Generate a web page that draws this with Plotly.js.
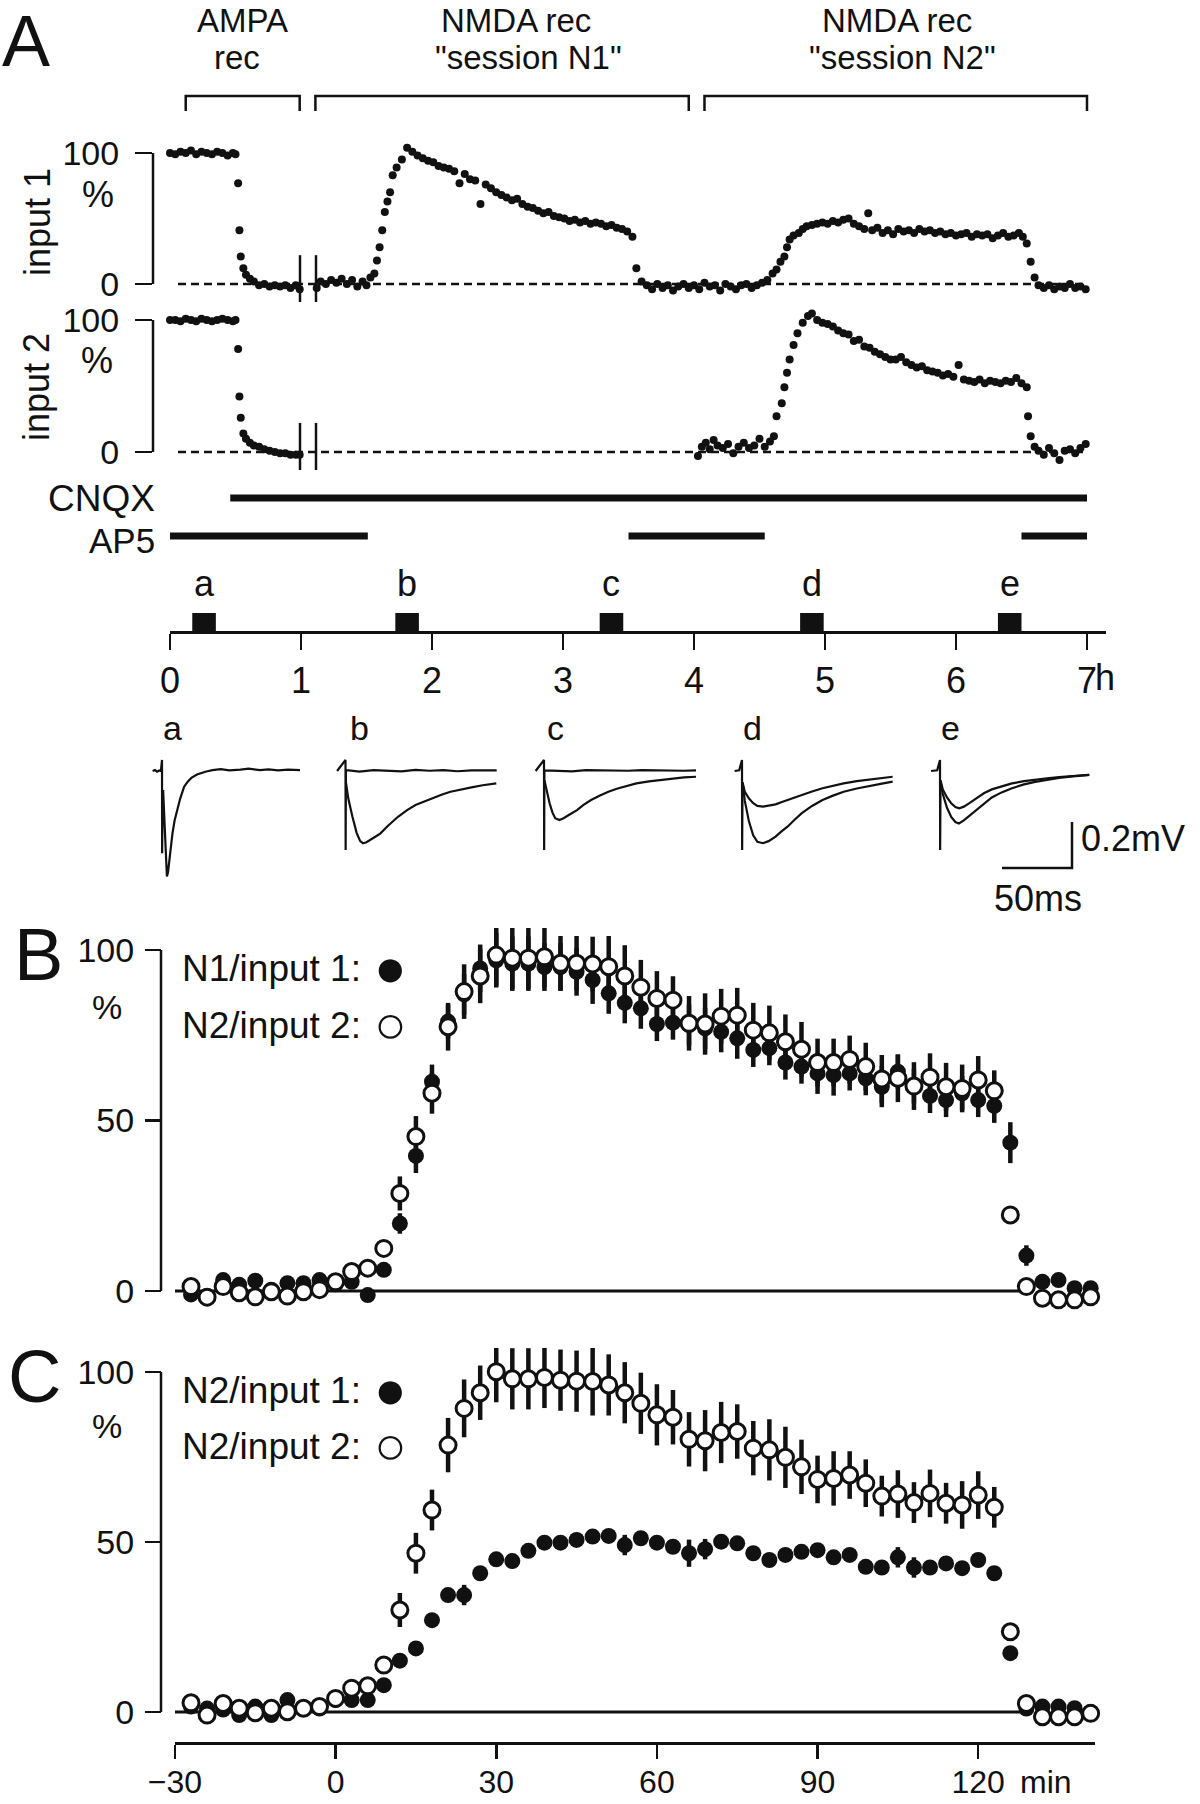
<!DOCTYPE html>
<html><head><meta charset="utf-8">
<script src="https://cdn.plot.ly/plotly-3.0.1.min.js"></script>
<style>html,body{margin:0;padding:0;background:#fff}#chart{width:1200px;height:1804px}</style>
</head><body><div id="chart"></div>
<script>
// ---------------- DATA ----------------
// Panel A: time course (hours) of input 1 and input 2 (% of baseline)
const input1Time = [0.00,0.04,0.08,0.12,0.16,0.20,0.24,0.28,0.32,0.36,0.40,0.44,0.48,0.50,
0.52,0.53,0.54,0.56,0.58,0.61,0.64,0.68,0.72,0.76,0.80,0.84,0.88,0.92,0.96,0.99,
1.12,1.15,1.19,1.23,1.27,1.31,1.35,1.39,1.43,1.47,1.50,
1.53,1.56,1.58,1.60,1.62,1.64,1.66,1.68,1.70,1.73,1.77,1.81,
1.85,1.89,1.93,1.97,2.01,2.05,2.09,2.13,2.17,2.21,2.25,2.29,2.33,2.37,2.41,2.45,2.49,2.53,2.57,2.61,2.65,2.69,2.73,2.77,2.81,2.85,2.89,2.93,2.97,3.01,3.05,3.09,3.13,3.17,3.21,3.25,3.29,3.33,3.37,3.41,3.45,3.49,3.53,
3.56,3.60,3.64,3.68,3.72,3.76,3.80,3.84,3.88,3.92,3.96,4.00,4.04,4.08,4.12,4.16,4.20,4.24,4.28,4.32,4.36,4.40,4.44,4.48,4.52,4.56,
4.60,4.63,4.66,4.69,4.71,4.73,4.76,4.80,4.83,4.86,4.90,4.94,4.98,5.02,5.06,5.10,5.14,5.18,5.22,5.26,5.30,5.33,5.36,5.40,5.44,5.48,5.52,5.56,5.60,5.64,5.68,5.72,5.76,5.80,5.84,5.88,5.92,5.96,6.00,6.04,6.08,6.12,6.16,6.20,6.24,6.28,6.32,6.36,6.40,6.44,6.48,6.51,6.54,
6.57,6.60,6.63,6.67,6.71,6.75,6.79,6.83,6.87,6.91,6.95,6.99];
const input1Pct = [100,99,101,100,102,99,101,100,99,101,100,98,100,99,
77,41,21,12,7,4,2,-1,0,-2,-1,-2,-1,-3,-1,-4,
-3,2,0,3,1,4,0,3,-2,2,-1,
5,8,18,28,41,55,63,70,83,89,95,104,
101,98,96,94,93,90,89,88,86,77,84,80,79,61,76,73,70,68,66,64,65,61,59,58,56,54,55,52,51,50,48,49,47,48,46,47,46,44,45,43,42,40,36,
12,2,-1,-4,0,-3,-1,-5,-2,0,-3,-1,-4,1,-2,-1,-5,0,-2,-4,-1,0,-3,-1,1,3,
8,11,17,21,28,34,37,39,42,44,45,46,47,46,48,47,49,50,46,44,42,54,41,43,39,41,38,42,40,41,39,42,40,41,39,40,38,39,37,38,39,36,38,37,38,35,37,39,36,37,39,36,31,
17,5,-1,-3,-1,-4,-2,-3,0,-3,-2,-4];

const input2Time = [0.00,0.04,0.08,0.12,0.16,0.20,0.24,0.28,0.32,0.36,0.40,0.44,0.48,0.50,
0.52,0.53,0.54,0.56,0.58,0.61,0.64,0.68,0.72,0.76,0.80,0.84,0.88,0.92,0.96,0.99,
4.03,4.06,4.09,4.12,4.15,4.18,4.22,4.26,4.30,4.34,4.38,4.42,4.46,4.50,4.54,4.58,4.61,
4.63,4.67,4.69,4.71,4.73,4.76,4.79,4.83,4.87,4.90,
4.94,4.98,5.02,5.06,5.10,5.14,5.18,5.22,5.26,5.30,5.34,5.38,5.42,5.46,5.50,5.54,5.58,5.62,5.66,5.70,5.74,5.78,5.82,5.86,5.90,5.94,5.98,6.02,6.06,6.10,6.14,6.18,6.22,6.26,6.30,6.34,6.38,6.42,6.46,6.50,6.54,
6.55,6.57,6.60,6.63,6.67,6.71,6.75,6.79,6.83,6.87,6.91,6.95,6.99];
const input2Pct = [100,100,99,101,100,99,101,100,99,100,101,100,99,100,
78,42,26,14,10,7,5,4,2,1,0,-1,-1,-2,-2,-2,
-3,4,7,2,9,5,3,6,-1,4,7,3,5,10,4,8,12,
27,37,49,60,70,81,90,98,103,105,
100,98,97,95,92,90,89,84,85,80,79,76,74,72,70,70,72,68,66,64,65,62,61,60,58,59,57,66,55,54,53,55,52,54,53,52,54,53,56,52,49,
27,12,4,1,-2,3,-1,-6,1,2,-1,3,6];

// drug applications (hours)
const cnqxStart = [0.46], cnqxEnd = [7.0];
const ap5Start = [0.0, 3.50, 6.50], ap5End = [1.51, 4.54, 7.0];
// recording sessions (hours)
const sessionStart = [0.12, 1.11, 4.08], sessionEnd = [0.99, 3.96, 7.0];
const sessionLine1 = ['AMPA', 'NMDA rec', 'NMDA rec'];
const sessionLine2 = ['rec', '"session N1"', '"session N2"'];
// sample times for example traces (hours)
const sampleTimes = [0.26, 1.81, 3.37, 4.90, 6.41];
const sampleLabels = ['a', 'b', 'c', 'd', 'e'];
const hourTicks = [0, 1, 2, 3, 4, 5, 6, 7];
const hourTickText = ['0', '1', '2', '3', '4', '5', '6', '7'];

// Example traces (ms, mV)
const traceA_t = [-6.7,-5,-3.5,-2,-0.8,0,0.05,0.1,0.3,0.8,1.8,2.8,3.5,4.3,5.0,5.8,7.5,9,10.8,13,15.8,18.5,21,25,31,36,42,48,56,62,70,76,83,90,98.6];
const traceA_v = [0,0.004,-0.003,0.002,0,0.048,-0.2,-0.358,-0.22,-0.083,-0.25,-0.40,-0.459,-0.44,-0.40,-0.343,-0.27,-0.215,-0.17,-0.12,-0.068,-0.045,-0.03,-0.015,-0.003,0.004,0.008,0.003,0.006,0.01,0.004,0.007,0.003,0.006,0.004];
const traceB1_t = [-6,0,0.1,0.3,1,10,20,30,40,50,60,70,80,90,100,108];
const traceB1_v = [0,0.048,-0.343,0,0.004,-0.003,0.004,0.002,-0.002,0.005,0.001,0.004,-0.001,0.003,0.002,0.003];
const traceB2_t = [0.3,2,5,8,10.5,12.5,15,18,21,25,30,37.5,44,50,56,62.5,69,75,82,90,98,107.7];
const traceB2_v = [-0.05,-0.12,-0.2,-0.27,-0.305,-0.314,-0.31,-0.3,-0.287,-0.271,-0.24,-0.199,-0.17,-0.148,-0.133,-0.119,-0.102,-0.09,-0.08,-0.071,-0.062,-0.054];
const traceC1_t = [-6,0,0.1,0.3,1,10,20,30,40,50,60,70,80,90,100,108.6];
const traceC1_v = [0,0.048,-0.343,0,0.003,0.001,-0.002,0.004,0.002,0.003,0.001,0.004,0.002,0.003,0.001,0.003];
const traceC2_t = [0.3,2,4,6,8,11,14,18,23.6,28,33.6,40,46,52,58.6,66,75,83.6,92,100,108.6];
const traceC2_v = [-0.04,-0.09,-0.14,-0.18,-0.205,-0.213,-0.205,-0.19,-0.17,-0.148,-0.126,-0.107,-0.09,-0.077,-0.065,-0.054,-0.045,-0.039,-0.033,-0.028,-0.025];
const traceD1_t = [-5.3,-2,0,0.1,0.4,2,5,8,11,15,19,24,28,32.5,37,42.5,50,57.5,65,72.6,82,92.6,100,107.6];
const traceD1_v = [0,0.003,0.048,-0.343,-0.05,-0.09,-0.12,-0.14,-0.152,-0.155,-0.152,-0.145,-0.136,-0.126,-0.116,-0.104,-0.089,-0.075,-0.064,-0.054,-0.044,-0.036,-0.03,-0.025];
const traceD2_t = [0.4,2,5,8,11,15,19,24,28,32.5,37,42.5,50,57.5,65,72.6,82,92.6,100,107.6];
const traceD2_v = [-0.05,-0.13,-0.22,-0.28,-0.308,-0.314,-0.305,-0.285,-0.264,-0.242,-0.215,-0.184,-0.152,-0.126,-0.107,-0.09,-0.076,-0.065,-0.055,-0.046];
const traceE1_t = [-6.4,-2,0,0.1,0.4,2,5,8,11,13.8,17,21,26,31.3,37,44,51.4,60,68,76.5,85,95,106.6];
const traceE1_v = [0,0.003,0.048,-0.343,-0.04,-0.08,-0.115,-0.14,-0.157,-0.162,-0.155,-0.14,-0.118,-0.097,-0.08,-0.066,-0.054,-0.044,-0.037,-0.032,-0.026,-0.021,-0.017];
const traceE2_t = [0.4,2,5,8,11,13.5,17,21,26,31.3,37,44,51.4,60,68,76.5,85,95,106.6];
const traceE2_v = [-0.05,-0.1,-0.16,-0.2,-0.222,-0.228,-0.215,-0.195,-0.168,-0.141,-0.115,-0.093,-0.075,-0.058,-0.047,-0.039,-0.03,-0.023,-0.017];
const scaleBarMs = 50, scaleBarMv = 0.2;

// Panels B and C: minutes relative to NMDA onset
const binTime = [-27,-24,-21,-18,-15,-12,-9,-6,-3,0,3,6,9,12,15,18,21,24,27,30,33,36,39,42,45,48,51,54,57,60,63,66,69,72,75,78,81,84,87,90,93,96,99,102,105,108,111,114,117,120,123,126,129,132,135,138,141];
const bN1in1 = [-1,-1.5,3.2,1.8,3.0,0.4,2.3,2.3,3.2,2.0,2.7,-1.2,6.2,19.8,39.6,61.4,79,87,94.6,97,96,96,95,95,93.6,91.2,87.3,84.5,82.9,78.3,78.7,78,77,76,74.1,70.7,71.2,67,65.8,63.8,63.3,63.8,62.4,59.9,64.3,60,57.2,56,58,56,54.3,43.5,10.4,2.7,3.2,0.8,0.8];
const bN1in1Err = [1,1,1,1,1,1,1,1,1,1,1,1,1,3,5,5,5,6,7,8,8,8,7,7,7,7,6,6,6,5,5,6,6,6,6,5,5,5,5,6,6,5,5,6,5,5,5,5,5,5,5,6,3,1,1,1,1];
const bN2in2 = [1.3,-1.8,1.3,-0.5,-1.7,-0.2,-1.5,-0.2,0.4,2.7,5.7,6.7,12.5,28.6,45.3,58,77.5,87.8,92.4,98.5,97.6,97.6,98,96.1,96.1,95.9,95.1,92.4,89.1,85.8,85.3,78.5,78.3,80.6,80.9,76.5,75.7,73.1,70.9,67,67,67.9,65.8,62.2,62.4,60.1,62.7,59.9,59.4,61.9,58.7,22.3,1.3,-2.1,-2.6,-2.6,-1.7];
const bN2in2Err = [1,1,1,1,1,1,1,1,1,1,1,1,2,5,6,6,7,8,8,9,9,9,9,8,8,8,9,9,8,8,7,8,9,8,8,8,8,8,8,7,7,7,7,7,7,7,7,7,7,7,6,1,1,1,1,1,1];
const cN2in1 = [1.6,1,0.7,-0.9,1.6,-0.9,3.5,1,1,3.5,3.5,3.5,7.9,15.1,18.7,27,34.4,34.4,40.8,44.9,44.4,47.4,49.8,49.8,50.6,51.6,51.8,49.1,51.1,49.8,48.6,46.7,47.9,50.1,49.6,46.7,44.7,46.2,47.1,47.6,45.5,46.2,42.7,42.5,45.5,42.5,42.5,43.7,42.3,44.7,40.8,17.3,1,1.6,1.6,1.1,0];
const cN2in1Err = [1,1,1,1,1,1,1,1,1,1,1,1,1,1,1,1,2,3,1,1,1,1,1,1,1,1,1,3,1,1,1,4,3,1,1,1,1,1,1,1,1,1,2,1,3,3,1,1,1,1,2,1,1,1,1,1,1];
const cN2in2 = [2.7,-0.9,2.5,1.1,-0.2,1.1,0.1,1.1,1.6,4.0,7.0,7.7,13.8,30,46.7,59.4,78.5,89.3,93.9,100.1,98,98,98.4,97.6,97.3,97.2,96.2,93.9,90.8,87.4,86.7,80.2,79.8,82.2,82.5,77.6,77.1,74.9,72.1,68.4,68.7,69.7,67.3,63.5,64.1,61.6,64.3,61.4,60.9,63.8,60.2,23.6,2.5,-1.4,-1.4,-1.4,-0.4];
const cN2in2Err = [1,1,1,1,1,1,1,1,1,1,1,1,2,5,6,6,8,8.5,8,9,9,9,9,9,9,10,9,9,9,9,8,8,9,9,8,8,9,9,8,7,8,7,7,6,7,6,7,6,7,7,6,1,2,2,2,2,2];
const bcYTicks = [0, 50, 100];
const bcXTicks = [-30, 0, 30, 60, 90, 120];

// ---------------- GEOMETRY / STYLE ----------------
const W = 1200, H = 1804;
const fx = p => p / W, fy = p => 1 - p / H;
const FONT = '"Liberation Sans", Arial, sans-serif';
const INK = '#111';
const H0 = 170, HPX = 131;            // hour axis: px of 0 h, px per hour
const hr = p => (p - H0) / HPX;
const MIN0 = 335.6, MPX = 5.355;      // minute axis: px of 0 min, px per min
const mn = p => (p - MIN0) / MPX;
const MS_PX = 1.4, MV_PX = 230, BASE_PX = 771;

// y axis spanning pixel rows [top, bot], with 100 % at px100 and 0 % at px0
function pctRange(px100, px0, top, bot) {
  const k = (px0 - px100) / 100;
  return [-(bot - px0) / k, 100 + (px100 - top) / k];
}
function pctAxis(px100, px0, top, bot, ticks, size, standoff, extra) {
  return Object.assign({domain: [fy(bot), fy(top)], range: pctRange(px100, px0, top, bot), tickvals: ticks,
    ticks: 'outside', ticklen: 17, tickwidth: 2.5, tickcolor: INK, showline: false,
    showgrid: false, zeroline: false, tickfont: {family: FONT, size: size, color: INK}, ticklabelstandoff: standoff, fixedrange: true}, extra);
}
const hidden = {visible: false, showgrid: false, zeroline: false, fixedrange: true};

const layout = {
  width: W, height: H, margin: {l: 0, r: 0, t: 0, b: 0},
  paper_bgcolor: '#fff', plot_bgcolor: 'rgba(0,0,0,0)', showlegend: false,
  font: {family: FONT, color: INK},
  xaxis: Object.assign({}, hidden, {domain: [fx(153), fx(1110)], range: [hr(153), hr(1110)], anchor: 'y'}),
  yaxis: pctAxis(153, 284, 135, 302, [0, 100], 34, 9, {anchor: 'x'}),
  xaxis2: Object.assign({}, hidden, {domain: [fx(153), fx(1110)], range: [hr(153), hr(1110)], anchor: 'y2'}),
  yaxis2: pctAxis(320, 452, 303, 470, [0, 100], 34, 9, {anchor: 'x2'}),
  xaxis3: {domain: [fx(170), fx(1106)], range: [0, hr(1106)], anchor: 'y3', tickvals: hourTicks, ticktext: hourTickText,
    ticks: 'outside', ticklen: 16, tickwidth: 2.5, tickcolor: INK, showline: true, linewidth: 2.5, linecolor: INK,
    showgrid: false, zeroline: false, tickfont: {family: FONT, size: 36, color: INK}, ticklabelstandoff: 0, fixedrange: true},
  yaxis3: Object.assign({}, hidden, {domain: [fy(631), fy(613)], range: [0, 1], anchor: 'x3'}),
  xaxis9: Object.assign({}, hidden, {domain: [fx(MIN0 - 30 * MPX), fx(1095)], range: [-30, mn(1095)], anchor: 'y9'}),
  yaxis9: pctAxis(950, 1291, 928, 1312, bcYTicks, 34, 4, {anchor: 'free', position: fx(161), ticklen: 16}),
  xaxis10: {domain: [fx(MIN0 - 30 * MPX), fx(1095)], range: [-30, mn(1095)], anchor: 'free', position: fy(1743),
    tickvals: bcXTicks, ticks: 'outside', ticklen: 14, tickwidth: 2.5, tickcolor: INK, showline: true, linewidth: 2.5, linecolor: INK,
    showgrid: false, zeroline: false, tickfont: {family: FONT, size: 32, color: INK}, ticklabelstandoff: -4, fixedrange: true},
  yaxis10: pctAxis(1372, 1712, 1348, 1732, bcYTicks, 34, 4, {anchor: 'free', position: fx(161), ticklen: 16}),
  shapes: [], annotations: []
};

// inset axes for example traces a..e
const insetStimPx = [162, 345.5, 544, 742, 940];
insetStimPx.forEach((s, i) => {
  const n = i + 4;
  layout['xaxis' + n] = Object.assign({}, hidden, {domain: [fx(s - 12), fx(s + 160)], range: [-12 / MS_PX, 160 / MS_PX], anchor: 'y' + n});
  layout['yaxis' + n] = Object.assign({}, hidden, {domain: [fy(885), fy(750)], range: [-(885 - BASE_PX) / MV_PX, (BASE_PX - 750) / MV_PX], anchor: 'x' + n});
});

// ---------------- TRACES ----------------
const traces = [];
const dot = {size: 8, color: INK};
traces.push({type: 'scatter', mode: 'markers', x: input1Time, y: input1Pct, marker: dot, xaxis: 'x', yaxis: 'y', cliponaxis: false, hoverinfo: 'skip'});
traces.push({type: 'scatter', mode: 'markers', x: input2Time, y: input2Pct, marker: dot, xaxis: 'x2', yaxis: 'y2', cliponaxis: false, hoverinfo: 'skip'});
traces.push({type: 'bar', x: sampleTimes, y: sampleTimes.map(() => 1), width: 0.18, marker: {color: INK, line: {width: 0}}, xaxis: 'x3', yaxis: 'y3', hoverinfo: 'skip'});

const insetSets = [
  [[traceA_t, traceA_v]],
  [[traceB1_t, traceB1_v], [traceB2_t, traceB2_v]],
  [[traceC1_t, traceC1_v], [traceC2_t, traceC2_v]],
  [[traceD1_t, traceD1_v], [traceD2_t, traceD2_v]],
  [[traceE1_t, traceE1_v], [traceE2_t, traceE2_v]]
];
insetSets.forEach((set, i) => {
  set.forEach(([t, v]) => traces.push({type: 'scatter', mode: 'lines', x: t, y: v, line: {color: INK, width: 2.2},
    xaxis: 'x' + (i + 4), yaxis: 'y' + (i + 4), cliponaxis: false, hoverinfo: 'skip'}));
});
// scale bar (in inset e coordinates)
const sbX = (1072 - 940) / MS_PX, sbY = -(868 - BASE_PX) / MV_PX;
traces.push({type: 'scatter', mode: 'lines', x: [sbX - scaleBarMs, sbX, sbX], y: [sbY, sbY, sbY + scaleBarMv],
  line: {color: INK, width: 2.5}, xaxis: 'x8', yaxis: 'y8', cliponaxis: false, hoverinfo: 'skip'});

const filled = {size: 16, color: INK, line: {width: 0}};
const open = {size: 16, color: '#fff', line: {color: INK, width: 3}};
function errBar(arr) { return {type: 'data', array: arr, visible: true, color: INK, thickness: 4.5, width: 0}; }
[['x9', 'y9', bN1in1, bN1in1Err, bN2in2, bN2in2Err], ['x10', 'y10', cN2in1, cN2in1Err, cN2in2, cN2in2Err]].forEach(([xa, ya, f, fe, o, oe]) => {
  traces.push({type: 'scatter', mode: 'markers', x: binTime, y: f, error_y: errBar(fe), marker: filled, xaxis: xa, yaxis: ya, cliponaxis: false, hoverinfo: 'skip'});
  traces.push({type: 'scatter', mode: 'markers', x: binTime, y: o, error_y: errBar(oe), marker: open, xaxis: xa, yaxis: ya, cliponaxis: false, hoverinfo: 'skip'});
});

// ---------------- SHAPES ----------------
const S = layout.shapes;
sessionStart.forEach((s, i) => {
  const e = sessionEnd[i];
  S.push({type: 'path', xref: 'x', yref: 'paper', path: `M ${s},${fy(111)} L ${s},${fy(96)} L ${e},${fy(96)} L ${e},${fy(111)}`,
    line: {color: INK, width: 2.5}});
});
cnqxStart.forEach((s, i) => S.push({type: 'line', xref: 'x', yref: 'paper', x0: s, x1: cnqxEnd[i], y0: fy(498), y1: fy(498), line: {color: INK, width: 7}}));
ap5Start.forEach((s, i) => S.push({type: 'line', xref: 'x', yref: 'paper', x0: s, x1: ap5End[i], y0: fy(536), y1: fy(536), line: {color: INK, width: 7}}));
// vertical axis lines spanning 0..100 %
[['y', 153], ['y2', 153], ['y9', 161], ['y10', 161]].forEach(([ya, xp]) =>
  S.push({type: 'line', xref: 'paper', yref: ya, x0: fx(xp), x1: fx(xp), y0: 0, y1: 100, line: {color: INK, width: 2.5}}));
[['x', 'y'], ['x2', 'y2']].forEach(([xa, ya]) => {
  S.push({type: 'line', xref: xa, yref: ya, x0: hr(178), x1: 7.0, y0: 0, y1: 0, layer: 'below', line: {color: INK, width: 2.5, dash: '8px,5px'}});
  [hr(300), hr(316)].forEach(b => S.push({type: 'line', xref: xa, yref: ya, x0: b, x1: b, y0: -24, y1: 22, line: {color: INK, width: 2.5}}));
});
[['x9', 'y9'], ['x10', 'y10']].forEach(([xa, ya]) => S.push({type: 'line', xref: xa, yref: ya, x0: -30, x1: 128, y0: 0, y1: 0, layer: 'below', line: {color: INK, width: 3}}));

// ---------------- TEXT ----------------
const A = layout.annotations;
function ann(text, x, y, size, xanchor, extra) {
  A.push(Object.assign({text: text, xref: 'paper', yref: 'paper', x: fx(x), y: fy(y), xanchor: xanchor || 'center', yanchor: 'middle',
    showarrow: false, font: {family: FONT, size: size, color: INK}}, extra || {}));
}
ann('A', 0, 41, 72, 'left');
ann('B', 12, 954, 74, 'left');
ann('C', 6, 1376, 74, 'left');
const line1X = [242, 516, 897], line2X = [237, 528, 902];
sessionLine1.forEach((t, i) => ann(t, line1X[i], 20, 33));
sessionLine2.forEach((t, i) => ann(t, line2X[i], 57.5, 33));
ann('input 1', 38, 222, 36, 'center', {textangle: -90});
ann('input 2', 37, 387, 36, 'center', {textangle: -90});
ann('%', 98, 194, 36);
ann('%', 97, 361, 36);
ann('%', 107, 1007, 34);
ann('%', 107, 1426, 34);
ann('CNQX', 157, 498, 37, 'right');
ann('AP5', 157, 541, 35, 'right');
sampleLabels.forEach((l, i) => A.push({text: l, xref: 'x3', yref: 'paper', x: sampleTimes[i], y: fy(583), xanchor: 'center', yanchor: 'middle',
  showarrow: false, font: {family: FONT, size: 36, color: INK}}));
ann('h', 1093, 677, 36, 'left');
const insetLabelX = [172, 359, 555, 752, 950];
sampleLabels.forEach((l, i) => ann(l, insetLabelX[i], 728, 34));
ann('0.2mV', 1079, 838, 36, 'left');
ann('50ms', 1038, 898, 36);
const legendRows = [['N1/input 1:', '\u25CF', 967], ['N2/input 2:', '\u25CB', 1024], ['N2/input 1:', '\u25CF', 1389], ['N2/input 2:', '\u25CB', 1445]];
legendRows.forEach(([t, g, y]) => { ann(t, 180, y + 1, 37, 'left'); ann(g, 390, y, 54, 'center'); });
ann('min', 1018, 1782, 32, 'left');

Plotly.newPlot('chart', traces, layout, {staticPlot: true, displayModeBar: false});
</script></body></html>
